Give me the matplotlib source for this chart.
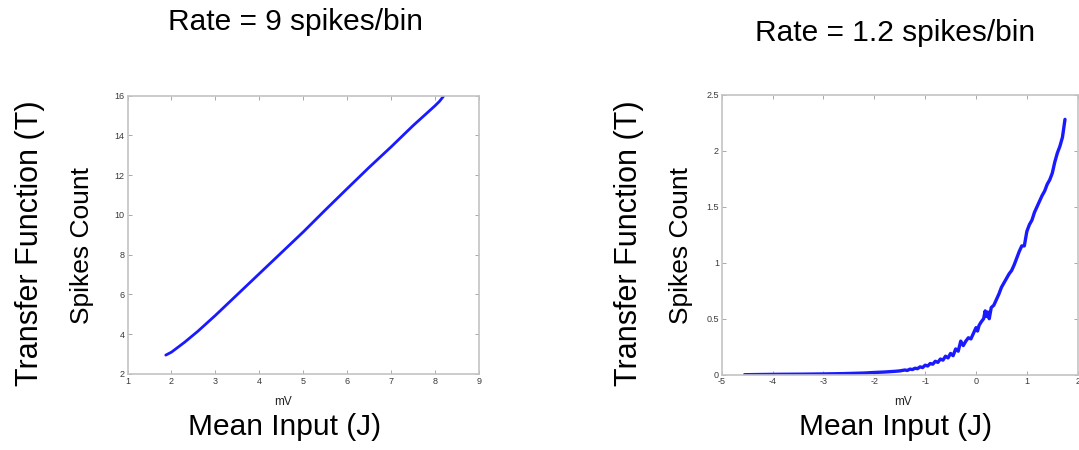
import matplotlib
matplotlib.use("Agg")
import matplotlib.pyplot as plt

plt.rcParams['font.family'] = ['Liberation Sans', 'DejaVu Sans']
plt.rcParams['axes.unicode_minus'] = False

# High-rate condition: nearly linear transfer function
high_x = [1.87, 2.0, 2.3, 2.6, 3.0, 3.5, 4.0, 4.5, 5.0, 5.5, 6.0, 6.5, 7.0, 7.5, 7.8, 8.0, 8.1, 8.2]
high_y = [2.95, 3.1, 3.6, 4.15, 4.95, 6.0, 7.05, 8.1, 9.15, 10.25, 11.33, 12.4, 13.43, 14.5, 15.1, 15.5, 15.72, 16.0]

# Low-rate condition: expansive transfer function with trial-to-trial jitter
low_x = [-4.55, -4.2, -3.8, -3.4, -3.0, -2.6, -2.2, -2.0, -1.8, -1.6, -1.5, -1.4, -1.35, -1.3,
         -1.25, -1.2, -1.15, -1.1, -1.05, -1.0, -0.95, -0.9, -0.85, -0.8, -0.75, -0.7, -0.65,
         -0.6, -0.55, -0.5, -0.45, -0.4, -0.35, -0.3, -0.25, -0.2, -0.15, -0.1, -0.05, 0.0,
         0.03, 0.06, 0.1, 0.15, 0.18, 0.2, 0.23, 0.26, 0.3, 0.35, 0.4, 0.45, 0.5, 0.55,
         0.6, 0.65, 0.7, 0.75, 0.8, 0.85, 0.9, 0.95, 1.0, 1.05, 1.1, 1.15, 1.2, 1.25,
         1.3, 1.35, 1.4, 1.45, 1.5, 1.55, 1.6, 1.65, 1.7, 1.75]
low_y = [0.0, 0.002, 0.004, 0.005, 0.007, 0.01, 0.015, 0.02, 0.024, 0.03, 0.034, 0.042, 0.038, 0.05,
         0.046, 0.058, 0.054, 0.07, 0.064, 0.085, 0.078, 0.1, 0.094, 0.12, 0.11, 0.14, 0.13,
         0.165, 0.15, 0.19, 0.17, 0.23, 0.21, 0.3, 0.26, 0.3, 0.33, 0.32, 0.37, 0.42,
         0.39, 0.44, 0.47, 0.5, 0.57, 0.52, 0.56, 0.5, 0.6, 0.62, 0.67, 0.72, 0.78, 0.82,
         0.86, 0.9, 0.93, 0.98, 1.04, 1.1, 1.15, 1.15, 1.28, 1.34, 1.38, 1.45, 1.5, 1.55,
         1.6, 1.64, 1.7, 1.74, 1.8, 1.9, 1.98, 2.04, 2.12, 2.28]

titles = ["Rate = 9 spikes/bin", "Rate = 1.2 spikes/bin"]
x_ticks = [list(range(1, 10)), list(range(-5, 3))]
y_ticks = [list(range(2, 17, 2)), [0, 0.5, 1, 1.5, 2, 2.5]]
y_tick_labels = [[str(v) for v in y_ticks[0]], ["0", "0.5", "1", "1.5", "2", "2.5"]]

fig = plt.figure(figsize=(10.79, 4.5), dpi=100)
ax_pos = [[0.1182, 0.1689, 0.3258, 0.6184], [0.6689, 0.1673, 0.3299, 0.6222]]
series = [(high_x, high_y), (low_x, low_y)]
lw = [2.0, 2.4]

for i in range(2):
    ax = fig.add_axes(ax_pos[i])
    ax.plot(series[i][0], series[i][1], color="#1a1aff", lw=lw[i],
            solid_capstyle="round", solid_joinstyle="round")
    ax.set_xlim(x_ticks[i][0], x_ticks[i][-1])
    ax.set_ylim(y_ticks[i][0], y_ticks[i][-1])
    ax.set_xticks(x_ticks[i])
    ax.set_yticks(y_ticks[i])
    ax.set_yticklabels(y_tick_labels[i])
    ax.tick_params(direction="in", length=3, width=0.7, labelsize=6.5, colors="#a8a8a8",
                   labelcolor="#3a3a3a", top=True, right=True, pad=2)
    for s in ax.spines.values():
        s.set_color("#c4c4c4")
        s.set_linewidth(1.2)

# Figure-level labels
fig.text(296 / 1079, 1 - 22 / 450, titles[0], ha="center", va="center", fontsize=21.5)
fig.text(895 / 1079, 1 - 33 / 450, titles[1], ha="center", va="center", fontsize=21.5)
for xc in [283, 903]:
    fig.text(xc / 1079, 1 - 402 / 450, "mV", ha="center", va="center", fontsize=8.5,
             color="#222222")
for xc in [285, 896]:
    fig.text(xc / 1079, 1 - 427 / 450, "Mean Input (J)", ha="center", va="center", fontsize=21.5)
for xc in [30, 629]:
    fig.text(xc / 1079, 1 - 243 / 450, "Transfer Function (T)", ha="center", va="center",
             rotation=90, fontsize=22)
for xc in [82, 681]:
    fig.text(xc / 1079, 1 - 246 / 450, "Spikes Count", ha="center", va="center",
             rotation=90, fontsize=19)

fig.savefig("out.png", dpi=100)
